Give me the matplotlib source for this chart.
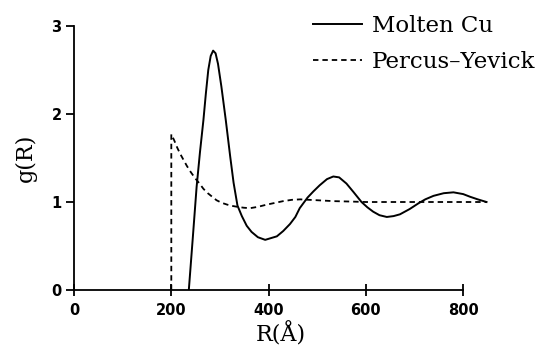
import matplotlib
matplotlib.use("Agg")
import matplotlib.pyplot as plt

# Molten Cu
r_cu = [236, 244, 252, 259, 266, 271, 276, 281, 286, 291, 296, 303, 312, 321,
        328, 336, 345, 355, 365, 378, 393, 405, 417, 430, 444, 455, 464, 472,
        480, 492, 505, 520, 533, 545, 560, 575, 591, 603, 615, 628, 643, 657,
        670, 690, 708, 722, 739, 760, 780, 800, 814, 830, 848]
g_cu = [0.0, 0.58, 1.17, 1.57, 1.93, 2.23, 2.50, 2.66, 2.72, 2.69, 2.57, 2.31,
        1.93, 1.52, 1.22, 0.96, 0.84, 0.73, 0.66, 0.60, 0.57, 0.59, 0.61, 0.67,
        0.75, 0.83, 0.93, 0.99, 1.05, 1.12, 1.19, 1.26, 1.29, 1.28, 1.21, 1.11,
        1.0, 0.94, 0.89, 0.85, 0.83, 0.84, 0.86, 0.92, 0.985, 1.03, 1.07, 1.10,
        1.11, 1.09, 1.06, 1.03, 1.0]

# Percus-Yevick
r_py = [200, 200, 206, 212, 218, 225, 232, 240, 249, 258, 266, 275, 284, 293,
        304, 315, 326, 336, 349, 362, 378, 396, 413, 430, 448, 465, 483, 500,
        533, 570, 600, 700, 800, 848]
g_py = [0.0, 1.77, 1.70, 1.62, 1.55, 1.48, 1.41, 1.34, 1.27, 1.21, 1.15, 1.10,
        1.06, 1.02, 0.99, 0.97, 0.955, 0.945, 0.935, 0.93, 0.945, 0.97, 0.99,
        1.01, 1.025, 1.03, 1.025, 1.02, 1.01, 1.005, 1.0, 1.0, 1.0, 1.0]

x_ticks = [0, 200, 400, 600, 800]
y_ticks = [0, 1, 2, 3]

fig = plt.figure(figsize=(5.45, 3.5), dpi=100)
ax = fig.add_axes([0.1358, 0.1714, 0.7587, 0.7543])

ax.plot(r_cu, g_cu, color="black", lw=1.4, label="Molten Cu")
ax.plot(r_py, g_py, color="black", lw=1.3, linestyle=(0, (3, 2.2)),
        label="Percus\u2013Yevick")

ax.set_xlim(0, 850)
ax.set_ylim(0, 3)
ax.set_xticks(x_ticks)
ax.set_yticks(y_ticks)

for s in ["top", "right"]:
    ax.spines[s].set_visible(False)
ax.spines["bottom"].set_bounds(0, 800)
ax.spines["left"].set_bounds(0, 3)
for s in ["bottom", "left"]:
    ax.spines[s].set_linewidth(1.3)

ax.tick_params(axis="x", direction="inout", length=9, width=1.3, pad=5)
ax.tick_params(axis="y", direction="out", length=6, width=1.3, pad=3)
for lab in ax.get_xticklabels() + ax.get_yticklabels():
    lab.set_fontweight("bold")
    lab.set_fontsize(10.5)
    lab.set_family("DejaVu Sans")

ax.set_xlabel("R(\u00c5)", family="DejaVu Serif", fontsize=16, labelpad=3)
ax.set_ylabel("g(R)", family="DejaVu Serif", fontsize=16, labelpad=10)

fig.legend(loc="upper left", bbox_to_anchor=(0.575, 0.957), frameon=False,
           prop={"family": "DejaVu Serif", "size": 16.5}, handlelength=2.1,
           handletextpad=0.45, labelspacing=0.62, borderpad=0, borderaxespad=0)

fig.savefig("out.png", dpi=100)
